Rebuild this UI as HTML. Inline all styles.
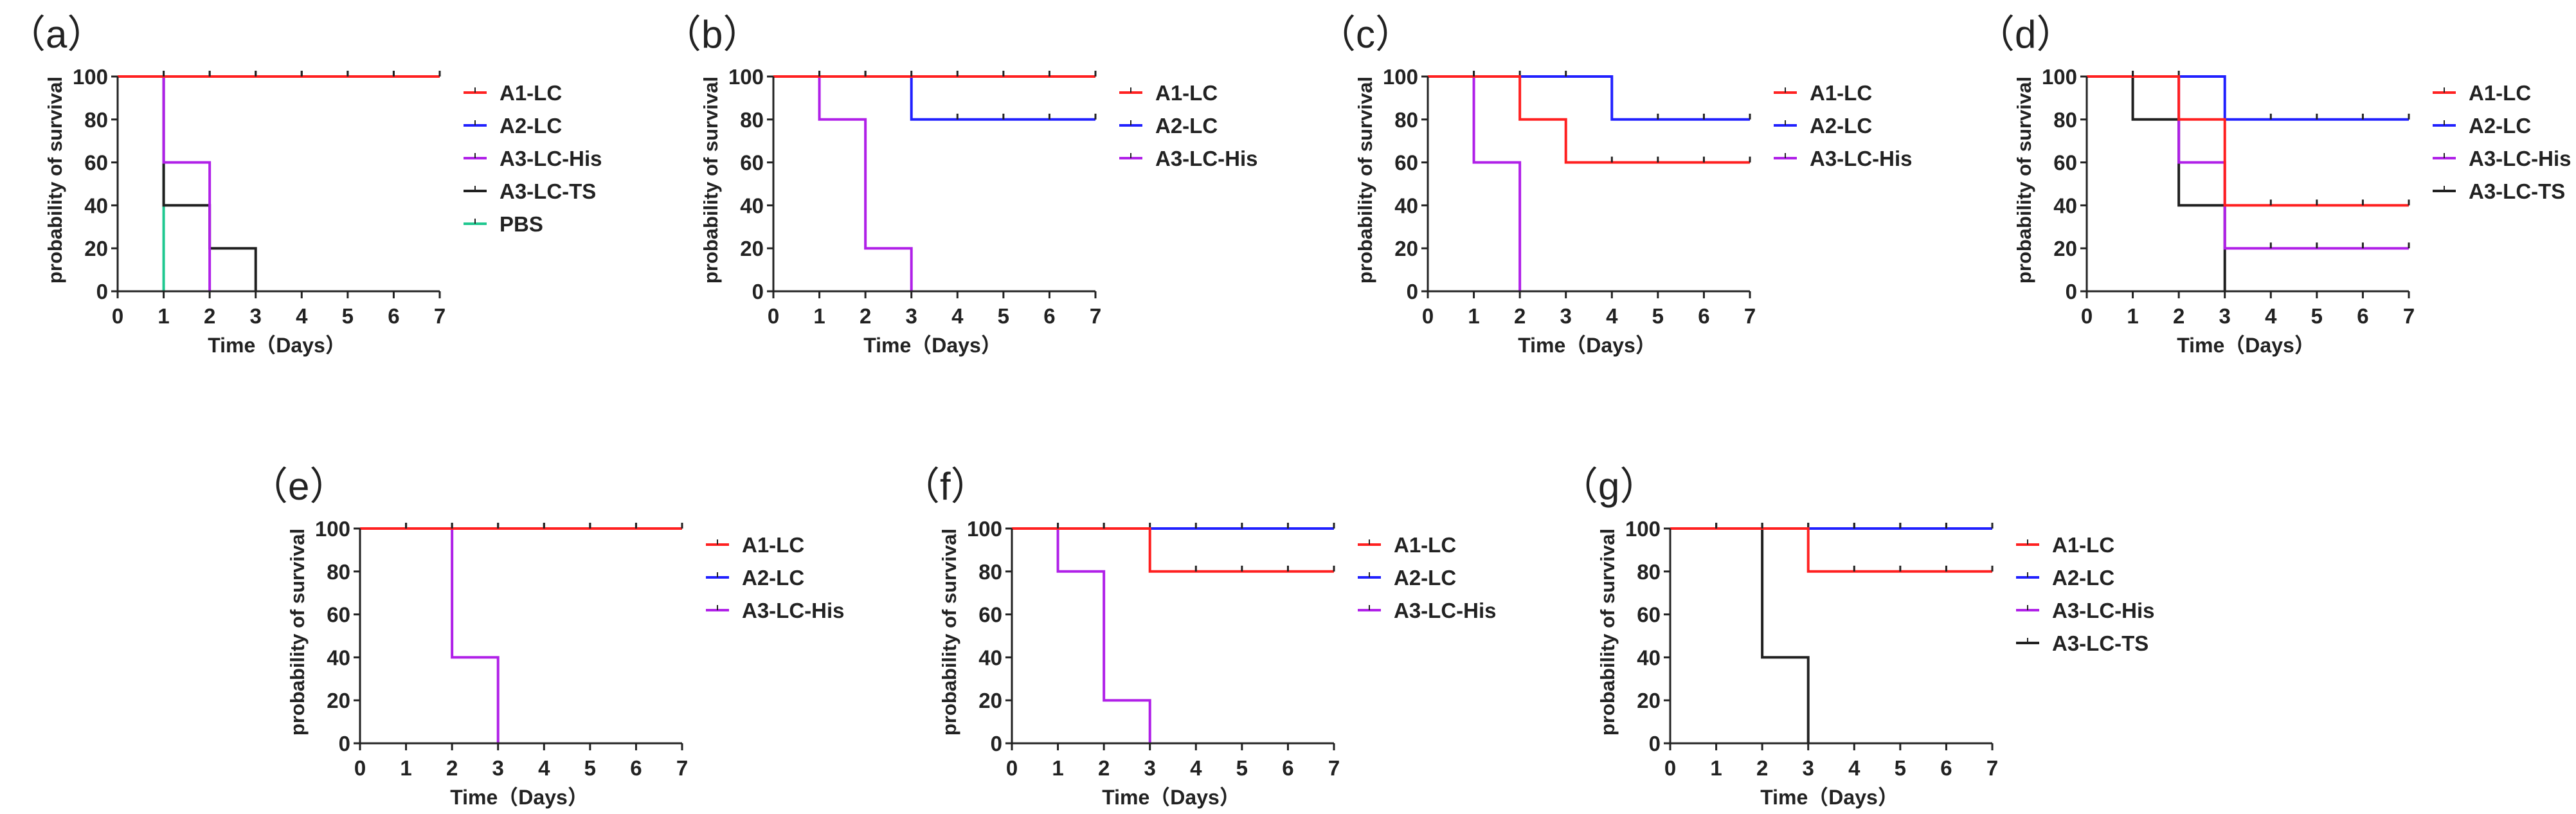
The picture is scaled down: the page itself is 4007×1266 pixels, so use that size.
<!DOCTYPE html>
<html><head><meta charset="utf-8"><style>
html,body{margin:0;padding:0;background:#fff;}
svg{display:block;}
text{font-family:"Liberation Sans","Noto Sans CJK SC",sans-serif;}
</style></head><body>
<svg id="fig" width="4007" height="1266" viewBox="0 0 4007 1266"></svg>
<script>
const panelLabels=["a","b","c","d","e","f","g"];
const panelX0=[183,1203,2221,3246,560,1574,2598];
const panelY100=[119,119,119,119,822,822,822];
const xTicks=[0,1,2,3,4,5,6,7];
const yTicks=[0,20,40,60,80,100];
const seriesNames=["A1-LC","A2-LC","A3-LC-His","A3-LC-TS","PBS"];
const seriesColors=["#ff2020","#2020ff","#b020e8","#202020","#20c890"];
// step data: [day, survival] change points per panel per series (null = absent)
const dataA1=[[[0,100]],[[0,100]],[[0,100],[2,80],[3,60]],[[0,100],[2,80],[3,40]],[[0,100]],[[0,100],[3,80]],[[0,100],[3,80]]];
const dataA2=[[[0,100]],[[0,100],[3,80]],[[0,100],[4,80]],[[0,100],[3,80]],[[0,100]],[[0,100]],[[0,100]]];
const dataHis=[[[0,100],[1,60],[2,0]],[[0,100],[1,80],[2,20],[3,0]],[[0,100],[1,60],[2,0]],[[0,100],[2,60],[3,20]],[[0,100],[2,40],[3,0]],[[0,100],[1,80],[2,20],[3,0]],[[0,100]]];
const dataTS=[[[0,100],[1,40],[2,20],[3,0]],null,null,[[0,100],[1,80],[2,40],[3,0]],null,null,[[0,100],[2,40],[3,0]]];
const dataPBS=[[[0,100],[1,0]],null,null,null,null,null,null];
const legendCounts=[5,3,3,4,3,3,4];

const NS="http://www.w3.org/2000/svg";
const svg=document.getElementById('fig');
function mk(tag,attrs,parent){const e=document.createElementNS(NS,tag);for(const k in attrs)e.setAttribute(k,attrs[k]);(parent||svg).appendChild(e);return e;}
const W=501,H=334;
panelLabels.forEach((lab,p)=>{
  const x0=panelX0[p],y100=panelY100[p],y0=y100+H;
  const sx=d=>x0+d/7*W, sy=v=>y0-v/100*H;
  const g=mk('g',{});
  
  
  const t=mk('text',{x:x0-172,y:y100-45,'font-size':60,fill:'#222'},g);
  t.textContent='（'+lab+'）';
  
  
  // series drawn in order: PBS, TS, His, A2, A1
  const all=[dataA1[p],dataA2[p],dataHis[p],dataTS[p],dataPBS[p]];
  [4,3,2,1,0].forEach(si=>{
    const pts=all[si]; if(!pts) return;
    let d='M'+sx(pts[0][0])+','+sy(pts[0][1]);
    let cur=pts[0][1];
    for(let i=1;i<pts.length;i++){d+=' H'+sx(pts[i][0])+' V'+sy(pts[i][1]);cur=pts[i][1];}
    const last=pts[pts.length-1];
    if(cur>0) d+=' H'+sx(7);
    const path=mk('path',{d:d,fill:'none',stroke:seriesColors[si],'stroke-width':4},g);
    
    
    // censor ticks on horizontal segments at integer days
    for(let day=1;day<=7;day++){
      let v=pts[0][1];for(const q of pts){if(q[0]<=day)v=q[1];}
      let changes=pts.some(q=>q[0]===day);
      if(v>0 && !changes){
        const c=mk('line',{x1:sx(day),x2:sx(day),y1:sy(v),y2:sy(v)-9,stroke:'#222','stroke-width':3},g);
        
        
      }
    }
  });
  // axes
  const ax=mk('path',{d:`M${x0},${y100} V${y0} H${x0+W}`,fill:'none',stroke:'#222','stroke-width':3},g);
  
  
  xTicks.forEach(v=>{
    mk('line',{x1:sx(v),x2:sx(v),y1:y0,y2:y0+11,stroke:'#222','stroke-width':3},g);
    const tt=mk('text',{x:sx(v),y:y0+50,'font-size':33,'font-weight':'bold','text-anchor':'middle',fill:'#222'},g);
    tt.textContent=v;
    
    
  });
  yTicks.forEach(v=>{
    mk('line',{x1:x0-10,x2:x0,y1:sy(v),y2:sy(v),stroke:'#222','stroke-width':3},g);
    const tt=mk('text',{x:x0-15,y:sy(v)+12,'font-size':33,'font-weight':'bold','text-anchor':'end',fill:'#222'},g);
    tt.textContent=v;
    
    
  });
  const xt=mk('text',{x:x0+W/2-3,y:y0+95,'font-size':32,'font-weight':'bold','text-anchor':'middle',fill:'#222'},g);
  xt.textContent='Time（Days）';
  
  
  const yt=mk('text',{x:0,y:0,'font-size':31,'font-weight':'bold','text-anchor':'middle',fill:'#222',transform:`translate(${x0-87},${y100+H/2-6}) rotate(-90)`},g);
  yt.textContent='probability of survival';
  
  
  // legend
  for(let i=0;i<legendCounts[p];i++){
    const ly=y100+25+i*51;
    const lg=mk('g',{},g);
    
    
    mk('line',{x1:x0+538,x2:x0+574,y1:ly,y2:ly,stroke:seriesColors[i],'stroke-width':4},lg);
    mk('line',{x1:x0+556,x2:x0+556,y1:ly,y2:ly-8,stroke:'#222','stroke-width':2},lg);
    const lt=mk('text',{x:x0+594,y:ly+12,'font-size':33,'font-weight':'bold',fill:'#222'},lg);
    lt.textContent=seriesNames[i];
  }
});
</script>
</body></html>
